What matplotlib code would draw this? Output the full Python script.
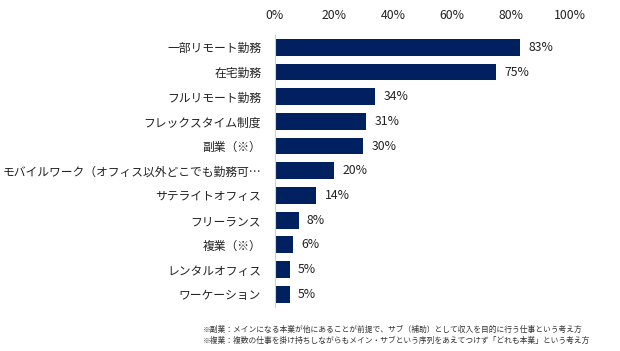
import matplotlib
matplotlib.use("Agg")
import matplotlib.pyplot as plt
from matplotlib.ticker import FixedLocator

plt.rcParams['font.family'] = ['Noto Sans CJK JP', 'DejaVu Sans']

categories = ['一部リモート勤務', '在宅勤務', 'フルリモート勤務', 'フレックスタイム制度',
              '副業（※）', 'モバイルワーク（オフィス以外どこでも勤務可…', 'サテライトオフィス',
              'フリーランス', '複業（※）', 'レンタルオフィス', 'ワーケーション']
values = [83, 75, 34, 31, 30, 20, 14, 8, 6, 5, 5]
xticks = [0, 20, 40, 60, 80, 100]
notes = ['※副業：メインになる本業が他にあることが前提で、サブ（補助）として収入を目的に行う仕事という考え方',
         '※複業：複数の仕事を掛け持ちしながらもメイン・サブという序列をあえてつけず「どれも本業」という考え方']

navy = '#002060'

fig = plt.figure(figsize=(6.2, 3.51), dpi=100)
ax = fig.add_axes([0.4435, 0.1264, 0.4758, 0.774])

pos = list(range(len(categories)))
ax.barh(pos, values, height=0.68, color=navy)
for p, v in zip(pos, values):
    ax.text(v + 2.8, p, f'{v}%', va='center', ha='left', fontsize=8.8, color='#222222')

ax.set_xlim(0, 100)
ax.set_ylim(len(categories) - 0.5, -0.5)
ax.set_yticks(pos)
ax.set_yticklabels(categories, fontsize=8.5, color='#222222')
ax.xaxis.set_major_locator(FixedLocator(xticks))
ax.set_xticklabels([f'{t}%' for t in xticks], fontsize=8.8, color='#222222')
ax.xaxis.tick_top()
ax.tick_params(axis='x', length=0, pad=9)
ax.tick_params(axis='y', length=0, pad=10)

for s in ['top', 'right', 'bottom']:
    ax.spines[s].set_visible(False)
ax.spines['left'].set_color('#d0d0d0')
ax.spines['left'].set_linewidth(0.8)

fig.text(0.327, 0.06, notes[0], fontsize=5.6, color='#333333', va='center', ha='left')
fig.text(0.327, 0.03, notes[1], fontsize=5.6, color='#333333', va='center', ha='left')

fig.savefig('out.png', dpi=100)
